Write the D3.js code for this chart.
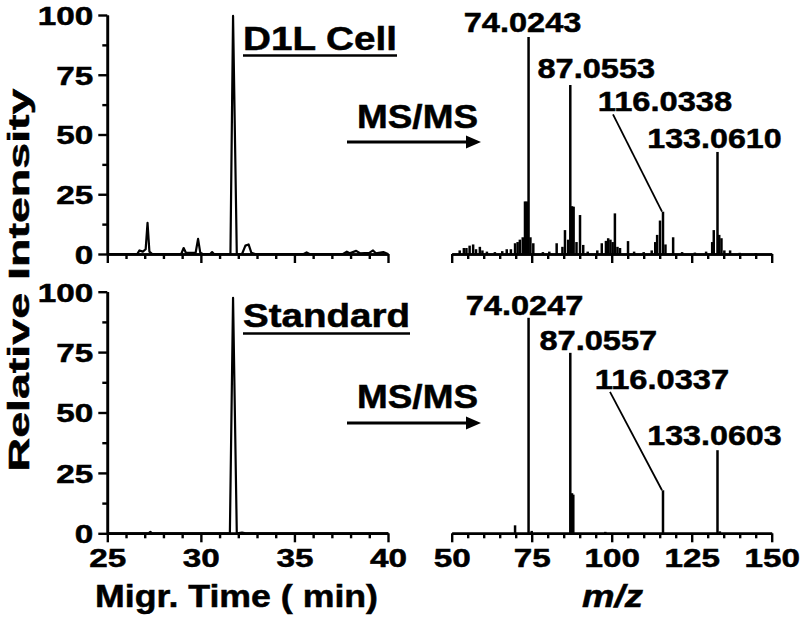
<!DOCTYPE html>
<html>
<head>
<meta charset="utf-8">
<script src="https://cdn.jsdelivr.net/npm/d3@7"></script>
<style>
  body { margin: 0; background: #fff; }
  text { font-family: "Liberation Sans", Arial, sans-serif; font-weight: bold; fill: #000; stroke: #000; stroke-width: 0.5px; }
</style>
</head>
<body>
<svg id="chart" width="800" height="628"></svg>
<script>
// electropherograms: [migration time (min), relative intensity]
const cellTrace = [
  [25, 0], [26.6, 0], [26.72, 1.5], [26.9, 1], [27.05, 2], [27.15, 13], [27.25, 1], [27.4, 0],
  [28.95, 0], [29.08, 2.5], [29.2, 0.5], [29.72, 0.5], [29.85, 6.3], [29.97, 0.5], [30.1, 0],
  [30.5, 0], [30.6, 0.8], [30.7, 0], [31.58, 0], [31.72, 99.6], [31.92, 0],
  [32.2, 0], [32.38, 3.5], [32.55, 4], [32.7, 0.5], [32.9, 0],
  [35.5, 0], [35.65, 0.7], [35.8, 0], [37.6, 0], [37.8, 1], [37.95, 0.3], [38.3, 1.3], [38.5, 0.3],
  [39.0, 0.5], [39.2, 1.5], [39.35, 0.3], [39.75, 0.8], [40, 0]
];
const standardTrace = [
  [25, 0], [27.2, 0], [27.3, 0.6], [27.4, 0], [31.55, 0], [31.72, 97.5], [31.92, 0], [32.2, 0.3], [32.4, 0], [40, 0]
];

// MS/MS spectra: [m/z, relative intensity]
const cellSpectrum = [
  [52.5, 1.5], [53.8, 2.5], [54.6, 2.5], [55.6, 3.5], [56.7, 4], [57.6, 2], [58.8, 3], [59.6, 1.5],
  [61, 1], [63.5, 0.8], [65.8, 1.2], [67.2, 2], [68.5, 2], [69.8, 4.5], [70.6, 5], [71.3, 6],
  [72.2, 7], [72.9, 22], [73.5, 22], [74.02, 90.8], [74.6, 7], [75.5, 4.5],
  [78.5, 0.8], [80.5, 1], [82.8, 4.5], [84.6, 3], [85.4, 10], [86.4, 6], [87.06, 70.7],
  [87.6, 20], [88.1, 19.8], [89, 5], [90.1, 16.3], [91.1, 3.8], [92.5, 1],
  [95.5, 1.5], [96.9, 4.5], [98.2, 5.5], [98.9, 6.6], [99.6, 6], [100.3, 5], [101, 17], [101.8, 3],
  [102.6, 2.5], [105.1, 5.4], [107, 1], [110, 0.8], [112.5, 1.5], [113.6, 5], [114.2, 8], [115.1, 14],
  [116.03, 17.7], [116.8, 4], [119.2, 7], [122, 0.8], [126, 0.6], [129.5, 1], [131.4, 5], [131.9, 10],
  [133.06, 42.7], [133.6, 8], [134.3, 6.6], [135.2, 1.5], [137, 1.5], [140, 0.5], [145, 0.4]
];
const standardSpectrum = [
  [69.8, 3.3], [74.02, 89.2], [75, 1], [87.06, 74.7], [87.6, 16.6], [88, 16],
  [98, 0.6], [116.03, 17.8], [133.06, 34.4], [133.8, 0.8]
];

// labelled fragment peaks
const cellPeaks = ["74.0243", "87.0553", "116.0338", "133.0610"];
const standardPeaks = ["74.0247", "87.0557", "116.0337", "133.0603"];

const timeTicks = [25, 30, 35, 40];
const mzTicks = [50, 75, 100, 125, 150];
const intensityTicks = [0, 25, 50, 75, 100];

const svg = d3.select("#chart");

const xTime = d3.scaleLinear().domain([25, 40]).range([107.3, 388]);
const xMz = d3.scaleLinear().domain([50, 150]).range([451.7, 771.7]);

const panels = [
  { name: "D1L Cell", nameWidth: 154, trace: cellTrace, spectrum: cellSpectrum, peaks: cellPeaks,
    y: d3.scaleLinear().domain([0, 100]).range([254, 15]),
    nameY: 50, lineY: 55.5, msY: 128, arrowY: 142,
    // label offsets: [dx of label centre from peak, baseline above peak top]
    offsets: [[-6, 5], [26, 7], [2, 0], [-3, 4]] },
  { name: "Standard", nameWidth: 167, trace: standardTrace, spectrum: standardSpectrum, peaks: standardPeaks,
    y: d3.scaleLinear().domain([0, 100]).range([533.3, 291.7]),
    nameY: 327, lineY: 333.5, msY: 408, arrowY: 423,
    offsets: [[-4, 3], [28, 3], [-1, 0], [-3, 5]] }
];

function fitText(sel, width) {
  return sel.attr("textLength", width).attr("lengthAdjust", "spacingAndGlyphs");
}

function styleAxis(g) {
  g.select(".domain").attr("stroke", "#000").attr("stroke-width", 2.6);
  g.selectAll(".tick line").attr("stroke", "#000").attr("stroke-width", 2.4);
}

panels.forEach((p, i) => {
  const y = p.y;
  const showLabels = i === 1;

  // y axis (left panel only)
  const yAxis = svg.append("g").attr("transform", `translate(${xTime.range()[0]},0)`);
  yAxis.call(d3.axisLeft(y).tickValues([12.5, 37.5, 62.5, 87.5]).tickSize(5).tickSizeOuter(0).tickFormat(""));
  const yMajor = svg.append("g").attr("transform", `translate(${xTime.range()[0]},0)`)
    .call(d3.axisLeft(y).tickValues(intensityTicks).tickSize(9).tickSizeOuter(0).tickPadding(5));
  yMajor.selectAll(".tick text")
    .attr("font-size", 26)
    .attr("dy", "0.36em")
    .each(function (d) {
      fitText(d3.select(this), String(d).length * 18.5);
    });
  styleAxis(yAxis);
  styleAxis(yMajor);

  // x axes, time and m/z
  [[xTime, d3.range(25, 41, 1), timeTicks], [xMz, d3.range(50, 151, 5), mzTicks]].forEach(([x, minor, major]) => {
    const gMinor = svg.append("g").attr("transform", `translate(0,${y(0)})`)
      .call(d3.axisBottom(x).tickValues(minor.filter((v) => !major.includes(v))).tickSize(5).tickSizeOuter(0).tickFormat(""));
    const gMajor = svg.append("g").attr("transform", `translate(0,${y(0)})`)
      .call(d3.axisBottom(x).tickValues(major).tickSize(9).tickSizeOuter(0).tickPadding(6));
    gMajor.selectAll(".tick text")
      .attr("font-size", 26)
      .attr("dy", "0.71em")
      .text(showLabels ? (d) => d : "")
      .each(function (d) {
        if (showLabels) fitText(d3.select(this), String(d).length * 18.5);
      });
    styleAxis(gMinor);
    styleAxis(gMajor);
  });

  // electropherogram
  svg.append("path")
    .datum(p.trace)
    .attr("d", d3.line().x((d) => xTime(d[0])).y((d) => y(d[1])))
    .attr("fill", "none")
    .attr("stroke", "#000")
    .attr("stroke-width", 2.2)
    .attr("stroke-linejoin", "round");

  // MS/MS spectrum as sticks
  svg.append("g")
    .selectAll("line")
    .data(p.spectrum)
    .join("line")
    .attr("x1", (d) => xMz(d[0]))
    .attr("x2", (d) => xMz(d[0]))
    .attr("y1", y(0))
    .attr("y2", (d) => y(d[1]))
    .attr("stroke", "#000")
    .attr("stroke-width", 2.5);

  // peak labels
  p.peaks.forEach((label, k) => {
    const mz = +label;
    const peak = p.spectrum.reduce((a, b) => (Math.abs(b[0] - mz) < Math.abs(a[0] - mz) ? b : a));
    const px = xMz(peak[0]);
    const top = y(peak[1]);
    const [dx, dy] = p.offsets[k];
    const cx = px + dx;
    let base = top - dy;
    if (k === 2) {
      // 116 label sits up and left, joined by a leader line
      base = y(peak[1] + 42);
      svg.append("line")
        .attr("x1", cx - 52).attr("y1", base + 3)
        .attr("x2", px - 1).attr("y2", top)
        .attr("stroke", "#000").attr("stroke-width", 1.8);
    }
    fitText(svg.append("text")
      .attr("x", cx)
      .attr("y", base)
      .attr("text-anchor", "middle")
      .attr("font-size", 28)
      .text(label), label.length * 16.8);
  });

  // sample name, underlined
  fitText(svg.append("text").attr("x", 243).attr("y", p.nameY).attr("font-size", 33).text(p.name), p.nameWidth);
  svg.append("line")
    .attr("x1", 243).attr("x2", 243 + p.nameWidth)
    .attr("y1", p.lineY).attr("y2", p.lineY)
    .attr("stroke", "#000").attr("stroke-width", 2.6);

  // MS/MS arrow
  fitText(svg.append("text").attr("x", 357).attr("y", p.msY).attr("font-size", 33).text("MS/MS"), 121);
  svg.append("line")
    .attr("x1", 347).attr("x2", 468)
    .attr("y1", p.arrowY).attr("y2", p.arrowY)
    .attr("stroke", "#000").attr("stroke-width", 3);
  svg.append("path")
    .attr("d", `M466,${p.arrowY - 6.5}L481,${p.arrowY}L466,${p.arrowY + 6.5}Z`)
    .attr("fill", "#000");
});

// axis titles
fitText(svg.append("text").attr("x", 95).attr("y", 607).attr("font-size", 31).text("Migr. Time ( min)"), 283);
fitText(svg.append("text").attr("x", 582).attr("y", 607).attr("font-size", 31).attr("font-style", "italic").text("m/z"), 61);
fitText(svg.append("text")
  .attr("transform", "translate(29,280) rotate(-90)")
  .attr("text-anchor", "middle")
  .attr("font-size", 30)
  .text("Relative Intensity"), 383);
</script>
</body>
</html>
